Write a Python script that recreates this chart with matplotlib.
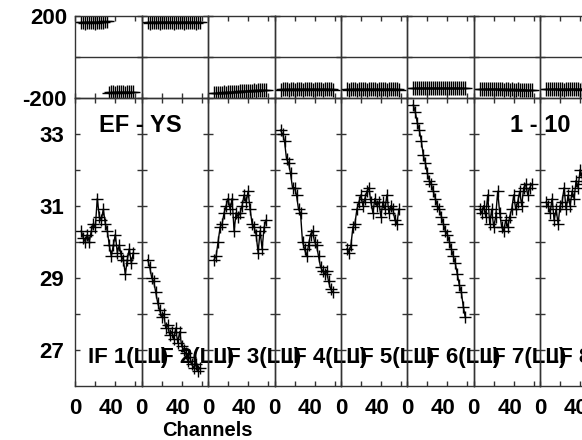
import matplotlib
matplotlib.use("Agg")
import matplotlib.pyplot as plt
from matplotlib.transforms import ScaledTranslation

# --- Daten ---
chans = [6, 8, 10, 12, 14, 16, 18, 20, 22, 24, 26, 28, 30, 32,
         34, 36, 38, 40, 42, 44, 46, 48, 50, 52, 54, 56, 58]

if_labels = ["IF 1(LL)", "IF 2(LL)", "IF 3(LL)", "IF 4(LL)",
             "IF 5(LL)", "IF 6(LL)", "IF 7(LL)", "IF 8(LL)"]

amp1 = [30.3, 30.1, 30.0, 30.2, 30.0, 30.3, 30.5, 30.4, 31.2, 30.7, 30.6, 30.9, 30.5, 30.3,
        29.9, 29.6, 29.9, 30.2, 29.7, 29.9, 29.6, 29.5, 29.1, 29.5, 29.8, 29.4, 29.7]
amp2 = [29.5, 29.3, 29.0, 28.9, 28.6, 28.3, 28.1, 27.9, 28.0, 27.6, 27.7, 27.4, 27.5, 27.3,
        27.6, 27.2, 27.5, 27.1, 27.0, 26.9, 26.7, 26.8, 26.6, 26.5, 26.6, 26.4, 26.5]
amp3 = [29.5, 29.6, 30.0, 30.4, 30.5, 30.8, 31.0, 31.2, 30.9, 31.2, 30.3, 30.8, 30.7, 30.8,
        31.0, 31.3, 31.1, 31.4, 30.9, 30.5, 30.4, 30.2, 29.7, 30.3, 29.8, 30.4, 30.6]
amp4 = [33.1, 33.0, 32.8, 32.3, 32.2, 31.9, 31.5, 31.5, 31.3, 30.9, 30.8, 30.0, 29.8, 29.6,
        29.9, 30.2, 30.3, 30.0, 29.9, 29.6, 29.3, 29.2, 29.1, 29.2, 28.9, 28.7, 28.6]
amp5 = [29.8, 29.7, 29.9, 30.4, 30.5, 30.9, 31.1, 31.3, 31.0, 31.2, 31.4, 31.5, 31.1, 30.8,
        31.2, 31.0, 31.1, 30.7, 31.1, 30.9, 31.3, 30.8, 31.0, 30.9, 30.6, 30.5, 30.9]
amp6 = [33.8, 33.6, 33.3, 33.1, 32.8, 32.4, 32.2, 31.9, 31.7, 31.6, 31.4, 31.2, 31.0, 30.9,
        30.7, 30.5, 30.3, 30.2, 30.0, 29.8, 29.6, 29.4, 29.1, 28.8, 28.6, 28.2, 27.9]
amp7 = [30.9, 30.8, 31.0, 30.7, 31.3, 30.5, 30.9, 30.4, 30.7, 31.4, 30.8, 30.4, 30.3, 30.6,
        30.4, 30.7, 30.9, 31.3, 30.9, 31.1, 31.4, 31.0, 31.5, 31.6, 31.3, 31.5, 31.6]
amp8 = [31.1, 31.0, 30.8, 31.2, 30.6, 30.9, 30.5, 31.0, 31.1, 31.5, 30.9, 31.3, 31.0, 31.4,
        31.2, 31.7, 31.5, 32.0, 31.8, 31.6, 31.9, 31.7, 32.0, 31.8, 32.1, 31.9, 32.0]

ph1 = [171, 173, 170, 172, 174, 171, 173, 170, 172, 175, 171, 173, 176, 178,
       -176, -174, -173, -175, -172, -174, -171, -173, -175, -172, -174, -173, -171]
ph2 = [172, 170, 173, 171, 174, 172, 170, 173, 171, 172, 174, 171, 173, 170,
       172, 171, 173, 172, 170, 174, 172, 171, 173, 172, 170, 173, 172]
ph3 = [-179, -178, -176, -177, -175, -174, -175, -173, -172, -173, -171, -170, -171, -169,
       -168, -169, -167, -166, -167, -165, -164, -165, -163, -162, -163, -161, -160]
ph4 = [-160, -158, -159, -157, -160, -158, -159, -161, -158, -157, -159, -160, -158, -159,
       -157, -158, -160, -159, -158, -157, -159, -160, -158, -159, -157, -158, -160]
ph5 = [-158, -160, -159, -157, -158, -160, -159, -158, -157, -159, -161, -158, -159, -157,
       -158, -160, -158, -159, -157, -158, -160, -159, -158, -157, -159, -158, -160]
ph6 = [-152, -150, -153, -151, -152, -154, -151, -150, -152, -153, -151, -152, -150, -153,
       -151, -152, -154, -151, -152, -150, -153, -152, -151, -153, -152, -150, -152]
ph7 = [-157, -156, -158, -157, -156, -158, -157, -159, -158, -157, -159, -158, -160, -159,
       -158, -160, -159, -161, -160, -159, -161, -160, -162, -161, -160, -162, -161]
ph8 = [-158, -157, -159, -158, -156, -158, -159, -157, -158, -160, -158, -157, -159, -158,
       -157, -159, -158, -160, -158, -157, -159, -158, -157, -159, -158, -160, -158]

amps = [amp1, amp2, amp3, amp4, amp5, amp6, amp7, amp8]
phases = [ph1, ph2, ph3, ph4, ph5, ph6, ph7, ph8]

# --- Layout (Pixel) ---
W, H = 582, 440
x0, pw = 75.3, 66.4
ph_top, ph_bot, amp_bot = 16.5, 97.7, 385.7

plt.rcParams['font.family'] = ['Liberation Sans', 'DejaVu Sans']
plt.rcParams['font.weight'] = 'bold'
plt.rcParams['font.size'] = 16

fig = plt.figure(figsize=(W / 100, H / 100), dpi=100)
frame_col = '#333333'

def style_axes(ax):
    ax.patch.set_visible(False)
    for s in ax.spines.values():
        s.set_color(frame_col)
        s.set_linewidth(1.0)
    ax.tick_params(direction='in', length=3.6, width=1.0, color=frame_col,
                   top=True, right=True, labelsize=16)

for k in range(8):
    left = (x0 + pw * k) / W
    # Phase panel
    axp = fig.add_axes([left, 1 - ph_bot / H, pw / W, (ph_bot - ph_top) / H])
    axp.plot(chans, phases[k], ls='none', marker='+', ms=10, mew=1.0, color='black')
    axp.axhline(0, color=frame_col, lw=1.0)
    axp.set_xlim(0, pw)
    axp.set_ylim(-200, 200)
    axp.set_xticks([0, 20, 40, 60])
    axp.set_xticklabels([])
    axp.set_yticks([-200, 0, 200])
    style_axes(axp)
    if k == 0:
        axp.set_yticklabels(['-200', '', '200'])
        axp.tick_params(axis='y', pad=6)
    else:
        axp.set_yticklabels([])

    # Amplitude panel
    axa = fig.add_axes([left, 1 - amp_bot / H, pw / W, (amp_bot - ph_bot) / H])
    axa.plot(chans, amps[k], color='black', lw=1.0, marker='+', ms=9, mew=1.0)
    axa.set_xlim(0, pw)
    axa.set_ylim(26.0, 34.0)
    axa.set_yticks([27, 28, 29, 30, 31, 32, 33])
    axa.set_xticks([0, 20, 40, 60])
    axa.set_xticklabels(['0', '', '40', ''])
    style_axes(axa)
    axa.tick_params(axis='x', pad=8.5)
    lbl = axa.get_xticklabels()[2]
    lbl.set_transform(lbl.get_transform() + ScaledTranslation(-0.04, 0, fig.dpi_scale_trans))
    if k == 0:
        axa.set_yticklabels(['27', '', '29', '', '31', '', '33'])
        axa.tick_params(axis='y', pad=8)
    else:
        axa.set_yticklabels([])
    axa.text(12.7, 26.63, if_labels[k], fontsize=16, fontweight='bold',
             ha='left', va='baseline', clip_on=False, zorder=5)

fig.text(99 / W, 1 - 131.7 / H, "EF - YS", fontsize=17, fontweight='bold',
         ha='left', va='baseline')
fig.text(571 / W, 1 - 131.7 / H, "1 - 10", fontsize=17, fontweight='bold',
         ha='right', va='baseline')
fig.text(207 / W, 1 - 436 / H, "Channels", fontsize=14.5, fontweight='bold',
         ha='center', va='baseline')

fig.savefig("out.png", dpi=100)
print("out.png geschrieben")
